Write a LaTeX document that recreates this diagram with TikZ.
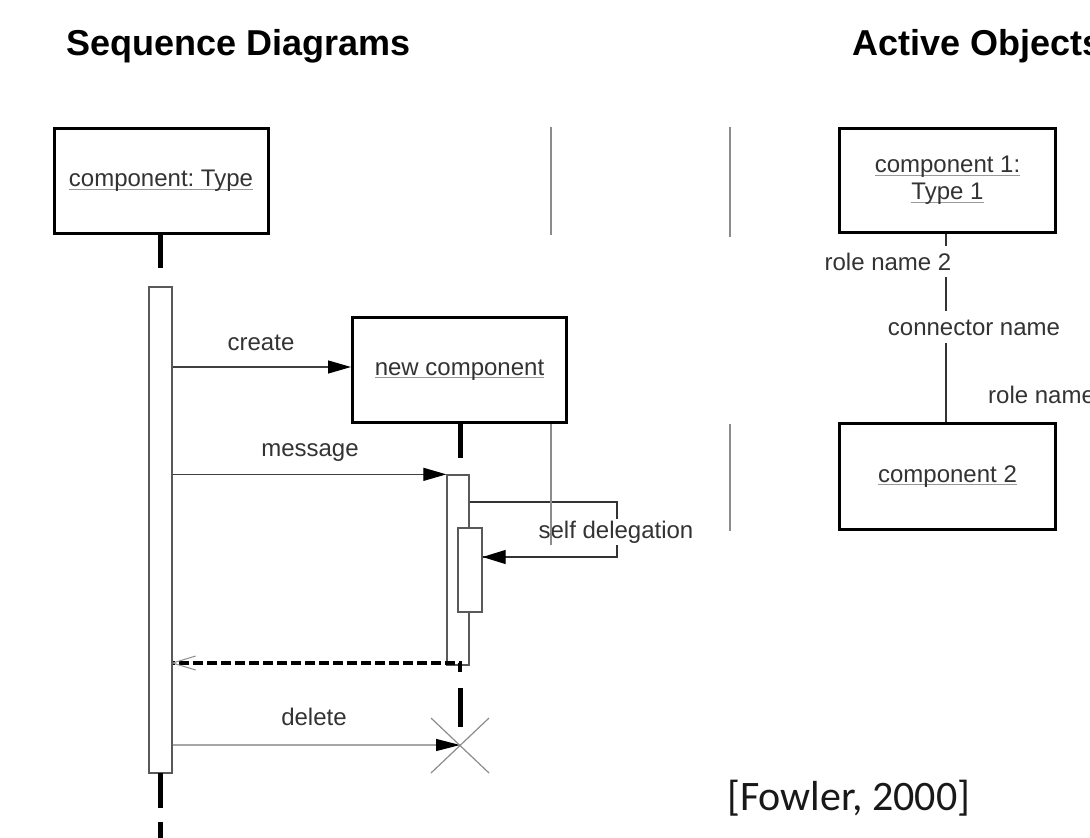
\documentclass[tikz,border=0pt]{standalone}
\usepackage{fontspec}
\setmainfont{Liberation Sans}
\newfontfamily\calfont{Carlito}
\usetikzlibrary{arrows.meta}
\frenchspacing
\newcommand\myul[1]{\setbox0\hbox{#1}\rlap{\color{black!40}\rule[-3pt]{\wd0}{1.2pt}}\box0}
\begin{document}
\begin{tikzpicture}[x=1pt,y=-1pt,
  lbl/.style={font=\fontsize{24}{28}\selectfont, text=black!80, inner sep=1pt},
  title/.style={font=\fontsize{36}{40}\selectfont\bfseries, text=black, inner sep=0pt, anchor=base west},
  box/.style={draw=black, line width=3pt, fill=white, align=center, font=\fontsize{24}{29}\selectfont, text=black!80, inner sep=0pt},
  actbox/.style={draw=black!65, line width=1.3pt, fill=white, inner sep=0pt},
  life/.style={line width=5pt, draw=black},
  msg/.style={line width=1.2pt, draw=black!75, -{Triangle[length=23pt,width=13pt,black]}},
  retmsg/.style={line width=4pt, draw=black, dash pattern=on 10pt off 4pt},
  grey/.style={draw=black!45, line width=2pt},
  conn/.style={draw=black!80, line width=1.2pt}]
\useasboundingbox (0,0) rectangle (1090,838);

% titles
\node[title] (t1) at (66,55) {Sequence Diagrams};
\node[title] (t2) at (852,55) {Active Objects};

% separator fragments
\draw[grey] (551,127) -- (551,235);
\draw[grey] (730,127) -- (730,237);
\draw[grey] (730,424) -- (730,531);

% lifeline 1
\node[box, minimum width=214pt, minimum height=105pt] (c1) at (161,181) {\myul{component: Type}};
\draw[life] (c1.south -| 160,0) -- (160,268);
\node[actbox, minimum width=23pt, minimum height=486pt] (a1) at (160.5,530) {};
\draw[life] (160,773) -- (160,808);
\draw[life] (160,822) -- (160,838);

% new component
\node[box, minimum width=214pt, minimum height=105pt] (nc) at (459.5,370) {\myul{new component}};
\draw[msg] (a1.east |- 0,367) -- (nc.west |- 0,367);
\node[lbl, anchor=base] (lcreate) at (261,350) {create};

\draw[life] (nc.south -| 460,0) -- (460,458);
\node[actbox, minimum width=22pt, minimum height=190pt] (a2) at (458,570) {};
\draw[msg] (a1.east |- a2.north) -- (a2.north west);
\node[lbl, anchor=base] (lmsg) at (310,456) {message};

% self delegation
\node[actbox, minimum width=24pt, minimum height=84pt] (a3) at (470,570) {};
\draw[conn] (a2.east |- 0,502) -- (617,502) -- (617,557) -- (a3.east |- 0,557);
\draw[conn, -{Triangle[length=23pt,width=14pt,black]}] (600,557) -- (a3.east |- 0,557);
\node[lbl, anchor=base, fill=white, inner sep=2pt] (lself) at (616,538) {self delegation};
\draw[grey] (551,424) -- (551,545);

% return
\coordinate (rret) at (460,663);
\coordinate (lret) at (a1.east |- rret);
\draw[retmsg] (460,672) -- (rret) -- (lret);
\draw[draw=black!45, line width=1pt] (lret) -- ++(23,-7) (lret) -- ++(23,7);

% delete
\draw[life] (460,688) -- (460,727);
\coordinate (del) at (460,745);
\draw[line width=1.2pt, draw=black!35, -{Triangle[length=24pt,width=12pt,black]}] (a1.east |- del) -- (del);
\node[lbl, anchor=base] (ldel) at (314,725) {delete};
\draw[draw=black!45, line width=1.2pt] (del) ++(-29,-27) -- ++(58,55);
\draw[draw=black!45, line width=1.2pt] (del) ++(29,-27) -- ++(-58,55);

% active objects
\node[box, minimum width=216pt, minimum height=104pt] (k1) at (947.5,180.5) {\myul{component 1:}\\[-2pt]\myul{Type 1}};
\node[box, minimum width=216pt, minimum height=106pt] (k2) at (947.5,476.5) {\myul{component 2}};
\draw[conn] (k1.south -| 946,0) -- (k2.north -| 946,0);
\node[lbl, anchor=base, fill=white, inner sep=7pt] (r2) at (888,270) {role name 2};
\node[lbl, anchor=base, fill=white, inner sep=8pt] (cn) at (974,335) {connector name};
\node[lbl, anchor=base west] (r1) at (987,403) {role name};

% citation
\node[font=\calfont\fontsize{42}{46}\selectfont, text=black!90, anchor=base west, inner sep=0pt] (cit) at (727,810) {[Fowler, 2000]};
\end{tikzpicture}
\end{document}
